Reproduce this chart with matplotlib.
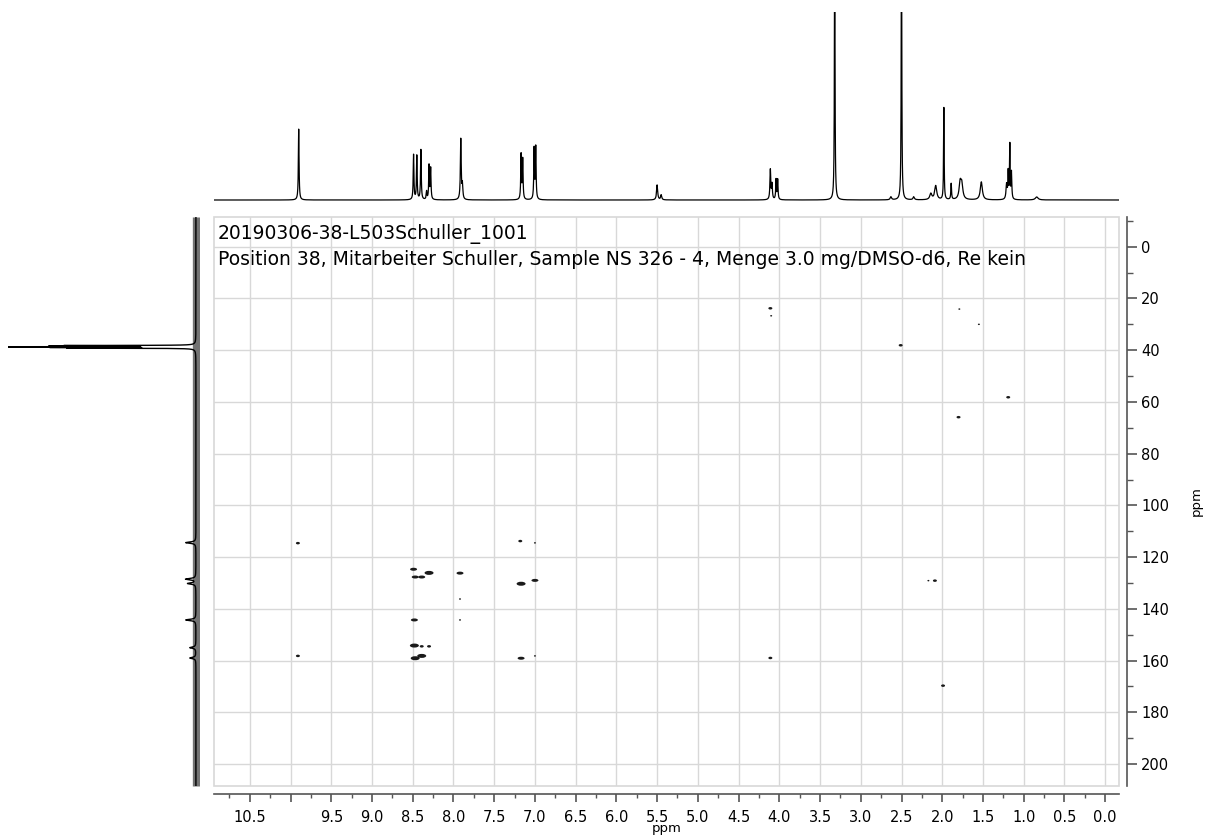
import numpy as np
import matplotlib
matplotlib.use('Agg')
import matplotlib.pyplot as plt
from matplotlib.patches import Ellipse, Rectangle
from matplotlib.ticker import MultipleLocator, FuncFormatter

# 1H projection (top): peak positions (ppm), heights, half widths
h1_ppm = [9.90, 8.49, 8.45, 8.40, 8.33, 8.30, 8.28, 7.91, 7.89, 7.17, 7.15,
          7.01, 6.99, 5.50, 5.45, 4.11, 4.09, 4.04, 4.02, 3.32, 2.63, 2.50,
          2.35, 2.14, 2.08, 1.98, 1.89, 1.78, 1.76, 1.52, 1.21, 1.19, 1.17,
          1.15, 0.84]
h1_height = [71, 45, 44, 50, 8, 34, 31, 61, 14, 45, 40,
             51, 52, 15, 5, 30, 15, 20, 20, 300, 3, 300,
             3, 6, 14, 92, 16, 16, 14, 18, 15, 27, 54,
             27, 3]
h1_width = [0.005, 0.005, 0.005, 0.005, 0.005, 0.005, 0.005, 0.006, 0.006, 0.005, 0.005,
            0.005, 0.005, 0.008, 0.008, 0.006, 0.006, 0.005, 0.005, 0.004, 0.01, 0.004,
            0.01, 0.015, 0.015, 0.004, 0.005, 0.015, 0.015, 0.015, 0.008, 0.005, 0.004,
            0.005, 0.02]

# 13C projection (left)
c13_ppm = [38.2, 38.45, 38.7, 38.95, 39.2, 114.4, 128.5, 130.2, 144.3, 155.0, 159.0]
c13_height = [118, 122, 260, 122, 118, 10, 10, 8, 10, 6, 6]
c13_width = [0.06, 0.06, 0.06, 0.06, 0.06, 0.3, 0.3, 0.3, 0.3, 0.3, 0.3]

# cross peaks: 1H shift, 13C shift, intensity level
cross_h = [9.91, 9.91, 8.49, 8.47, 8.39, 8.30, 7.92, 7.92, 7.92, 8.48, 8.48,
           8.39, 8.30, 8.47, 8.39, 7.18, 7.00, 7.17, 7.00, 7.17, 7.00, 4.11,
           4.10, 2.51, 1.79, 1.55, 1.19, 1.80, 2.17, 2.09, 4.11, 1.99]
cross_c = [114.6, 158.2, 124.7, 127.7, 127.7, 126.1, 126.2, 136.2, 144.3, 144.3, 154.2,
           154.5, 154.5, 159.1, 158.2, 113.8, 114.5, 130.3, 129.0, 159.1, 158.2, 23.8,
           26.7, 38.1, 24.1, 30.0, 58.2, 65.9, 129.1, 129.1, 159.0, 169.7]
cross_lvl = [1, 1, 2, 2, 2, 3, 2, 0, 0, 2, 3,
             1, 1, 3, 3, 1, 0, 3, 2, 2, 0, 1,
             0, 1, 0, 0, 1, 1, 0, 1, 1, 1]

x_tick_labels = ['0.0', '0.5', '1.0', '1.5', '2.0', '2.5', '3.0', '3.5', '4.0', '4.5',
                 '5.0', '5.5', '6.0', '6.5', '7.0', '7.5', '8.0', '8.5', '9.0', '9.5',
                 '', '10.5']

title1 = '20190306-38-L503Schuller_1001'
title2 = 'Position 38, Mitarbeiter Schuller, Sample NS 326 - 4, Menge 3.0 mg/DMSO-d6, Re kein'

W, H = 1213, 839
fig = plt.figure(figsize=(W / 100, H / 100), dpi=100)


def box(l, t, r, b):
    return [l / W, 1 - b / H, (r - l) / W, (b - t) / H]


ax = fig.add_axes(box(214, 217, 1119, 786))
ax_top = fig.add_axes(box(214, 12, 1119, 204))
ax_left = fig.add_axes(box(8, 217, 200, 786))

xlim = (10.94, -0.17)
ylim = (208.5, -11.5)
spine_col = '#555555'
grid_col = '#d8d8d8'

# main 2D plot
ax.set_xlim(*xlim)
ax.set_ylim(*ylim)
for s in ['left', 'top']:
    ax.spines[s].set_visible(False)
for s in ['right', 'bottom']:
    ax.spines[s].set_position(('outward', 6))
    ax.spines[s].set_color(spine_col)
    ax.spines[s].set_linewidth(1.2)
ax.add_patch(Rectangle((0, 0), 1, 1, transform=ax.transAxes, fill=False,
                       edgecolor=grid_col, lw=1.2, zorder=1, clip_on=False))

ax.xaxis.set_major_locator(MultipleLocator(0.5))
ax.xaxis.set_minor_locator(MultipleLocator(0.25))
ax.xaxis.set_major_formatter(FuncFormatter(
    lambda v, p: x_tick_labels[int(round(v * 2))] if 0 <= round(v * 2) < len(x_tick_labels) else ''))
ax.yaxis.set_major_locator(MultipleLocator(20))
ax.yaxis.set_minor_locator(MultipleLocator(10))
ax.yaxis.tick_right()
ax.yaxis.set_label_position('right')
ax.tick_params(axis='x', which='major', length=6, width=1.2, color=spine_col, labelsize=10.5, pad=5)
ax.tick_params(axis='x', which='minor', length=3, width=1, color=spine_col)
ax.tick_params(axis='y', which='major', length=7, width=1.2, color=spine_col, labelsize=10.5, pad=3)
ax.tick_params(axis='y', which='minor', length=4, width=1, color=spine_col)
ax.grid(True, which='major', color=grid_col, lw=1.0, zorder=0)
ax.set_axisbelow(True)
ax.set_xlabel('ppm', fontsize=9.5)
ax.xaxis.set_label_coords(0.5, -0.064)
ax.set_ylabel('ppm', fontsize=9.5)
ax.yaxis.set_label_coords(1.078, 0.5)

px_x = 1 / 81.48
size_w = [2.0, 4.0, 7.0, 9.0]
size_h = [1.5, 2.5, 3.0, 4.0]
for h, c, lv in zip(cross_h, cross_c, cross_lvl):
    ax.add_patch(Ellipse((h, c), width=size_w[lv] * px_x, height=size_h[lv] * 0.387,
                         color='#1a1a1a', lw=0, zorder=3))

ax.text(0.0044, 0.9613, title1, transform=ax.transAxes, fontsize=13.5, va='baseline', ha='left')
ax.text(0.0044, 0.9156, title2, transform=ax.transAxes, fontsize=13.5, va='baseline', ha='left')

# top 1H projection
x1 = np.linspace(xlim[1], xlim[0], 12000)
spec1 = np.zeros_like(x1)
for p, hgt, w in zip(h1_ppm, h1_height, h1_width):
    spec1 += hgt * w ** 2 / ((x1 - p) ** 2 + w ** 2)
ax_top.plot(x1, spec1, color='black', lw=0.9)
ax_top.set_xlim(*xlim)
ax_top.set_ylim(-4, 188)
ax_top.axis('off')

# left 13C projection
y1 = np.linspace(ylim[1], ylim[0], 8000)
spec2 = np.zeros_like(y1)
for p, hgt, w in zip(c13_ppm, c13_height, c13_width):
    spec2 += hgt * w ** 2 / ((y1 - p) ** 2 + w ** 2)
ax_left.fill_betweenx(y1, -3.5, 3.5, color='0.45', lw=0)
ax_left.plot(spec2, y1, color='black', lw=1.0)
ax_left.set_ylim(*ylim)
ax_left.set_xlim(184, -4)
ax_left.axis('off')

fig.savefig('out.png', dpi=100)
